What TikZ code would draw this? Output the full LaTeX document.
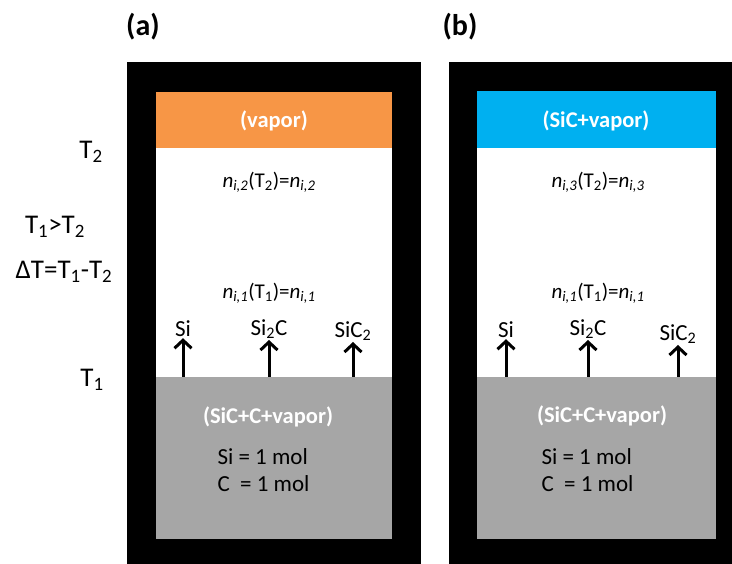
\documentclass[tikz,border=0pt]{standalone}
\usepackage{fontspec}
\setmainfont{Carlito}
\usepackage{tikz}
\usetikzlibrary{arrows.meta,positioning}
\definecolor{wallc}{RGB}{0,0,0}
\definecolor{vapora}{RGB}{247,150,70}
\definecolor{vaporb}{RGB}{0,176,240}
\definecolor{solidc}{RGB}{166,166,166}
\newcommand{\nsub}[1]{\textit{n}\textsubscript{\textit{#1}}}

\begin{document}
\begin{tikzpicture}[
  x=1pt,y=-1pt,
  font=\fontsize{21}{27}\selectfont,
  panel/.style={font=\fontsize{30}{34}\selectfont\bfseries},
  band/.style={text=white,font=\fontsize{22.5}{26}\selectfont\bfseries},
  temp/.style={font=\fontsize{27}{30}\selectfont},
  spec/.style={inner sep=1pt,font=\fontsize{23}{26}\selectfont},
  moles/.style={anchor=west,align=left,font=\fontsize{23}{27}\selectfont},
  flux/.style={-{Straight Barb[length=8pt,width=17pt,line width=3pt]},line width=3pt},
]
\useasboundingbox (0,0) rectangle (732,564);

% crucible (a)
\fill[wallc] (127,62) rectangle (421,564);
\fill[white] (156,92) rectangle (392,539);
\fill[vapora] (156,92) rectangle (392,148);
\fill[solidc] (156,377) rectangle (392,539);

% crucible (b)
\fill[wallc] (449,62) rectangle (732,564);
\fill[white] (477,91) rectangle (716,539);
\fill[vaporb] (477,91) rectangle (716,148);
\fill[solidc] (477,377) rectangle (716,539);

\node[panel] (la) at (143,27) {(a)};
\node[panel] (lb) at (460,27) {(b)};

\node[temp] (t2) at (91,152) {T\textsubscript{2}};
\node[temp] (tgt) at (55,227) {T\textsubscript{1}>T\textsubscript{2}};
\node[temp] (dt) at (64,272) {ΔT=T\textsubscript{1}-T\textsubscript{2}};
\node[temp] (t1) at (92,380) {T\textsubscript{1}};

% labels (a)
\node[band] (avap) at (274,121) {(vapor)};
\node (an2) at (269,182) {\nsub{i,2}(T\textsubscript{2})=\nsub{i,2}};
\node (an1) at (269,293) {\nsub{i,1}(T\textsubscript{1})=\nsub{i,1}};
\node[spec] (asi) at (183,329) {Si};
\node[spec] (asic) at (269,329) {Si\textsubscript{2}C};
\node[spec] (asicc) at (353,331) {SiC\textsubscript{2}};
\node[band] (amix) at (268,417) {(SiC+C+vapor)};
\node[moles] (amol) at (214,470) {Si = 1 mol\\C\ \ = 1 mol};

% labels (b)
\node[band] (bvap) at (596,121) {(SiC+vapor)};
\node (bn3) at (598,182) {\nsub{i,3}(T\textsubscript{2})=\nsub{i,3}};
\node (bn1) at (598,293) {\nsub{i,1}(T\textsubscript{1})=\nsub{i,1}};
\node[spec] (bsi) at (506,330) {Si};
\node[spec] (bsic) at (588,329) {Si\textsubscript{2}C};
\node[spec] (bsicc) at (678,334) {SiC\textsubscript{2}};
\node[band] (bmix) at (602,416) {(SiC+C+vapor)};
\node[moles] (bmol) at (538,470) {Si = 1 mol\\C\ \ = 1 mol};

% vapour flux from the source
\coordinate (asi0) at (183,377);
\coordinate (asic0) at (269,377);
\coordinate (asicc0) at (353,377);
\coordinate (bsi0) at (506,377);
\coordinate (bsic0) at (588,377);
\coordinate (bsicc0) at (678,377);
\foreach \s in {asi,asic,asicc,bsi,bsic,bsicc}
  \draw[flux] (\s0) -- (\s0 |- \s.south);

\end{tikzpicture}
\end{document}
